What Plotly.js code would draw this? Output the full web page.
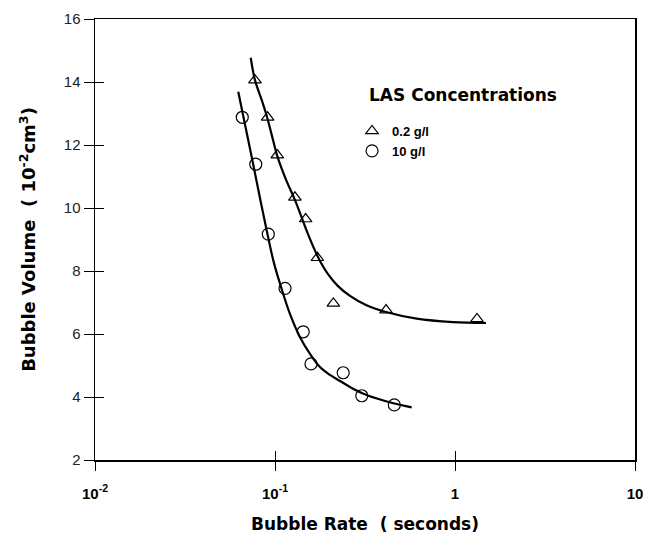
<!DOCTYPE html>
<html>
<head>
<meta charset="utf-8">
<script src="https://cdn.plot.ly/plotly-3.0.1.min.js"></script>
<style>html,body{margin:0;padding:0;background:#fff;}#chart{width:652px;height:545px;}</style>
</head>
<body>
<div id="chart"></div>
<script>
// Measured data points
const triX = [0.0774, 0.0910, 0.1030, 0.129, 0.148, 0.172, 0.211, 0.414, 1.325];
const triY = [14.06, 12.88, 11.68, 10.34, 9.65, 8.42, 6.97, 6.76, 6.48];
const circX = [0.0658, 0.0782, 0.0918, 0.1137, 0.1435, 0.1585, 0.2393, 0.3035, 0.460];
const circY = [12.88, 11.39, 9.17, 7.45, 6.07, 5.05, 4.77, 4.04, 3.75];
// Fitted curves
const triFitX = [0.0733, 0.0774, 0.0847, 0.0903, 0.0962, 0.1026, 0.1151, 0.1292, 0.1487, 0.1626, 0.1778, 0.1970, 0.2239, 0.2610, 0.3202, 0.4136, 0.612, 0.975, 1.486];
const triFitY = [14.77, 14.06, 13.40, 12.89, 12.29, 11.68, 10.90, 10.25, 9.33, 8.79, 8.32, 7.90, 7.52, 7.21, 6.92, 6.70, 6.49, 6.38, 6.35];
const circFitX = [0.0625, 0.0664, 0.0708, 0.0755, 0.0825, 0.0903, 0.0987, 0.1089, 0.1212, 0.1377, 0.1565, 0.1778, 0.2021, 0.2297, 0.2610, 0.3032, 0.3686, 0.4541, 0.5746];
const circFitY = [13.69, 12.96, 12.19, 11.41, 10.32, 9.24, 8.25, 7.43, 6.63, 5.90, 5.37, 4.95, 4.70, 4.51, 4.32, 4.13, 3.95, 3.80, 3.67];
const seriesNames = ['0.2 g/l', '10 g/l'];
const xTickVals = [0.01, 0.1, 1, 10];
const xTickText = ['10<sup>-2</sup>', '10<sup>-1</sup>', '1', '10'];
const yTickVals = [2, 4, 6, 8, 10, 12, 14, 16];

const xr = [-2, 1], yr = [2, 16];
const bold = 'Liberation Sans, Arial, sans-serif';
const heavy = 'DejaVu Sans, Liberation Sans, sans-serif';

const traces = [
  {x: triX, y: triY, mode: 'markers', name: seriesNames[0], xaxis: 'x', yaxis: 'y',
   marker: {symbol: 'triangle-up-open', size: 11, color: '#000', line: {width: 1.2, color: '#000'}}},
  {x: circX, y: circY, mode: 'markers', name: seriesNames[1], xaxis: 'x', yaxis: 'y',
   marker: {symbol: 'circle-open', size: 12, color: '#000', line: {width: 1.2, color: '#000'}}},
  {x: triFitX, y: triFitY, mode: 'lines', showlegend: false, xaxis: 'x2', yaxis: 'y2',
   line: {color: '#000', width: 2.2, shape: 'spline', smoothing: 1.0}},
  {x: circFitX, y: circFitY, mode: 'lines', showlegend: false, xaxis: 'x2', yaxis: 'y2',
   line: {color: '#000', width: 2.2, shape: 'spline', smoothing: 1.0}}
];

const layout = {
  width: 652, height: 545,
  margin: {l: 95, r: 17, t: 19, b: 85},
  paper_bgcolor: '#fff', plot_bgcolor: '#fff',
  showlegend: true,
  legend: {x: 0.476, y: 0.78, xanchor: 'left', yanchor: 'top', bgcolor: 'rgba(0,0,0,0)',
           font: {family: bold, size: 13, color: '#000', weight: 'bold'}, tracegroupgap: 0},
  xaxis: {type: 'log', range: xr, tickvals: xTickVals, ticktext: xTickText,
          ticks: 'outside', ticklen: 9, tickwidth: 1, tickcolor: '#000',
          ticklabelstandoff: 10,
          showline: true, linecolor: '#000', linewidth: 1.5, mirror: true,
          showgrid: false, zeroline: false,
          tickfont: {family: bold, size: 15, color: '#000', weight: 'bold'},
          title: {text: 'Bubble Rate  ( seconds)', font: {family: heavy, size: 17, color: '#000', weight: 'bold'}, standoff: 17}},
  yaxis: {range: yr, tickvals: yTickVals,
          ticks: 'outside', ticklen: 10, tickwidth: 1, tickcolor: '#000',
          showline: true, linecolor: '#000', linewidth: 1.5, mirror: true,
          showgrid: false, zeroline: false,
          tickfont: {family: 'Liberation Sans Narrow, Liberation Sans, Arial, sans-serif', size: 15, color: '#222'},
          title: {text: 'Bubble Volume  ( 10<sup>-2</sup>cm<sup>3</sup>)', font: {family: heavy, size: 18, color: '#000', weight: 'bold'}, standoff: 23}},
  xaxis2: {type: 'log', range: xr, overlaying: 'x', tickvals: xTickVals, showticklabels: false,
           ticks: 'inside', ticklen: 9, tickwidth: 1, tickcolor: '#000', showline: false,
           showgrid: false, zeroline: false, side: 'bottom'},
  yaxis2: {range: yr, overlaying: 'y', tickvals: yTickVals, showticklabels: false,
           ticks: 'inside', ticklen: 9, tickwidth: 1, tickcolor: '#000', showline: false,
           showgrid: false, zeroline: false, side: 'left'},
  annotations: [
    {text: 'LAS Concentrations', xref: 'paper', yref: 'paper', x: 0.503, y: 0.828,
     xanchor: 'left', yanchor: 'middle', showarrow: false,
     font: {family: heavy, size: 17, color: '#000', weight: 'bold'}}
  ]
};

Plotly.newPlot('chart', traces, layout, {displayModeBar: false, staticPlot: true});
</script>
</body>
</html>
